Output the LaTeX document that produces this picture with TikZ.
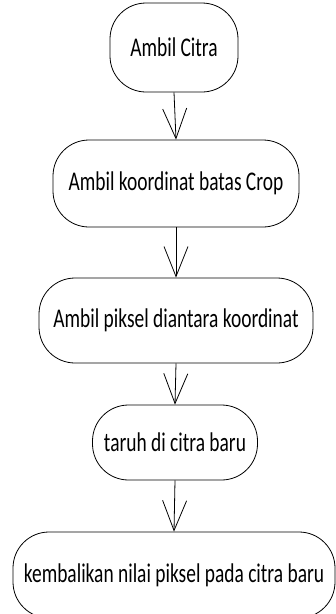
\documentclass[tikz,border=0pt]{standalone}
\usepackage{fontspec}
\setmainfont{Carlito}[FakeStretch=0.72]
\usetikzlibrary{arrows.meta}

\tikzset{
  act/.style={draw, line width=0.8pt, rounded corners=36pt, align=center,
    inner sep=0pt, font=\fontsize{27}{31}\selectfont},
  flow/.style={line width=0.8pt, -{Straight Barb[length=30pt,width=24pt]}}
}

\begin{document}
\begin{tikzpicture}[x=1pt,y=1pt]

% --- CANVAS ---
\useasboundingbox (0,0) rectangle (336,-614);

% --- ACTIVITIES ---
\node[act, minimum width=128pt, minimum height=89pt] (citra) at (174,-47.5) {Ambil Citra};
\node[act, minimum width=246pt, minimum height=87pt] (batas) at (176,-183.5) {Ambil koordinat batas Crop};
\node[act, minimum width=274pt, minimum height=85pt] (piksel) at (176,-320.5) {Ambil piksel diantara koordinat};
\node[act, minimum width=165pt, minimum height=75pt] (taruh) at (175,-442.5) {taruh di citra baru};
\node[act, minimum width=322pt, minimum height=86pt] (kembali) at (174,-575) {kembalikan nilai piksel pada citra baru};

% --- FLOWS ---
\foreach \a/\b in {citra/batas, batas/piksel, piksel/taruh, taruh/kembali} {
  \draw[flow] (\a.south) -- (\b.north);
}

\end{tikzpicture}
\end{document}
